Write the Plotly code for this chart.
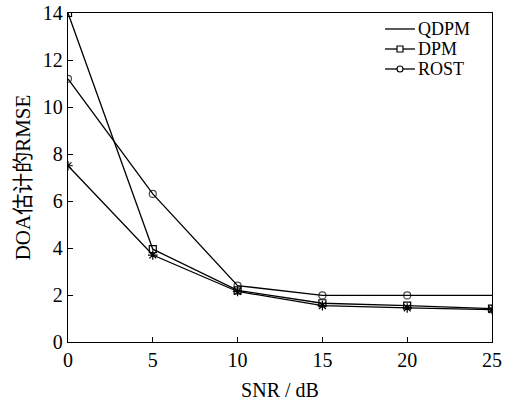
import plotly.graph_objects as go

snr = [0, 5, 10, 15, 20, 25]
qdpm = [7.5, 3.7, 2.15, 1.55, 1.45, 1.38]
dpm = [14.0, 3.95, 2.2, 1.65, 1.55, 1.42]
rost = [11.2, 6.3, 2.4, 1.98, 1.98, 1.98]

x_ticks = [0, 5, 10, 15, 20, 25]
y_ticks = [0, 2, 4, 6, 8, 10, 12, 14]

series_names = ["QDPM", "DPM", "ROST"]

LINE = dict(color="black", width=1.3)
FONT = "Liberation Serif, Noto Sans CJK SC, serif"

W, H = 517, 401
ML, MR, MT, MB = 68, 25, 13, 59
PW, PH = W - ML - MR, H - MT - MB


def px_x(p):
    return (p - ML) / PW


def px_y(p):
    return 1 - (p - MT) / PH


fig = go.Figure()
fig.add_trace(go.Scatter(x=snr, y=qdpm, mode="lines+markers", name="QDPM", line=LINE,
                         marker=dict(symbol="asterisk-open", size=8, color="black",
                                     line=dict(color="black", width=1.2))))
fig.add_trace(go.Scatter(x=snr, y=dpm, mode="lines+markers", name="DPM", line=LINE,
                         marker=dict(symbol="square-open", size=7, color="black",
                                     line=dict(color="black", width=1.2))))
# ROST curve carries no marker at its last point
fig.add_trace(go.Scatter(x=snr, y=rost, mode="lines+markers", name="ROST", line=LINE,
                         marker=dict(symbol="circle-open", size=[7, 7, 7, 7, 7, 0], color="black",
                                     line=dict(color="black", width=1.2))))

axis_common = dict(showgrid=False, zeroline=False, showline=True, linecolor="black",
                   linewidth=1.3, mirror=True, ticks="inside", ticklen=5,
                   tickcolor="black", tickwidth=1.3, automargin=False,
                   tickfont=dict(family=FONT, size=20, color="black"))

fig.update_xaxes(range=[0, 25], tickvals=x_ticks, **axis_common,
                 title=dict(text="SNR / dB", font=dict(family=FONT, size=20, color="black"),
                            standoff=12))
fig.update_yaxes(range=[0, 14], tickvals=y_ticks, **axis_common,
                 title=dict(text="DOA估计的RMSE", font=dict(family=FONT, size=21, color="black"),
                            standoff=6))

# compact legend in the top-right corner of the plot
shapes, annotations = [], []
rows = [29, 49, 69]
x0, x1, xt = 385, 415, 417
for name, row in zip(series_names, rows):
    yy = px_y(row)
    shapes.append(dict(type="line", xref="paper", yref="paper", x0=px_x(x0), x1=px_x(x1),
                       y0=yy, y1=yy, line=dict(color="black", width=1.3)))
    annotations.append(dict(text=name, xref="paper", yref="paper", x=px_x(xt), y=yy,
                            xanchor="left", yanchor="middle", showarrow=False, borderpad=0,
                            font=dict(family=FONT, size=18, color="black")))
cx = (x0 + x1) / 2
r = 3
sq_row, ci_row = rows[1], rows[2]
shapes.append(dict(type="rect", xref="paper", yref="paper",
                   x0=px_x(cx - r), x1=px_x(cx + r), y0=px_y(sq_row + r), y1=px_y(sq_row - r),
                   line=dict(color="black", width=1.2), fillcolor="white"))
shapes.append(dict(type="circle", xref="paper", yref="paper",
                   x0=px_x(cx - r), x1=px_x(cx + r), y0=px_y(ci_row + r), y1=px_y(ci_row - r),
                   line=dict(color="black", width=1.2), fillcolor="white"))

fig.update_layout(
    width=W, height=H,
    margin=dict(l=ML, r=MR, t=MT, b=MB),
    plot_bgcolor="white", paper_bgcolor="white",
    showlegend=False,
    shapes=shapes, annotations=annotations,
)

fig.write_html("out.html")
